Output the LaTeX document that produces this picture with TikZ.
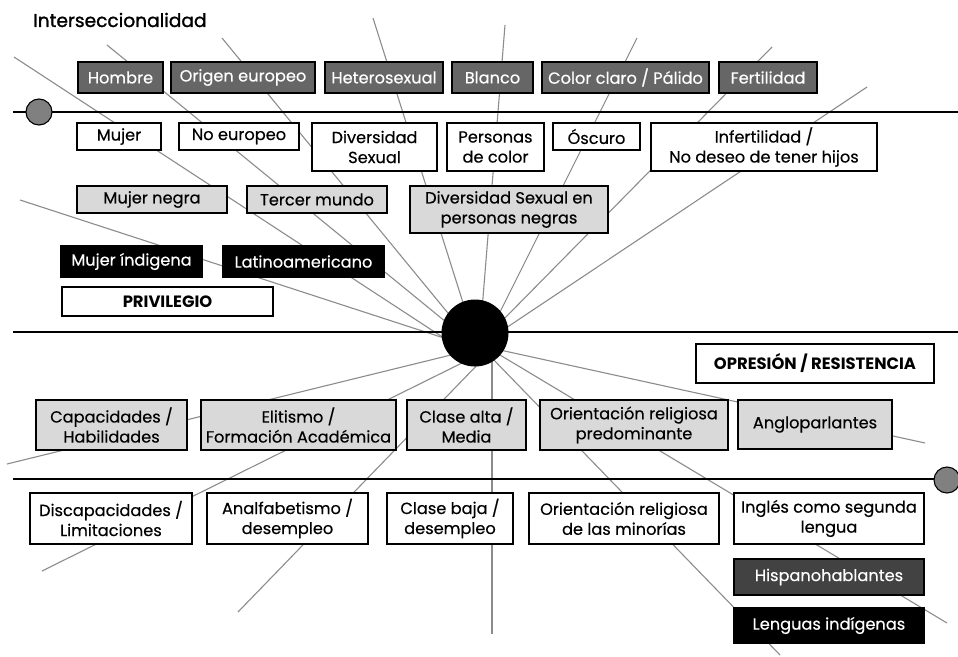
\documentclass[tikz,border=0pt]{standalone}
\usepackage{fontspec}
\setmainfont{Poppins}[FakeBold=0.35]
\newfontfamily\titlefont{Poppins}[FakeBold=1.3]
\newfontfamily\labelfont{Poppins}
\definecolor{boxdark}{HTML}{666666}
\definecolor{boxlight}{HTML}{D9D9D9}
\definecolor{boxhisp}{HTML}{424242}
\definecolor{raygray}{HTML}{8C8C8C}
\definecolor{dotgray}{HTML}{808080}
\begin{document}
\begin{tikzpicture}[x=1pt,y=-1pt,
  ray/.style={draw=raygray, line width=1.1pt},
  hline/.style={draw=black, line width=1.3pt},
  box/.style={draw=black, line width=1.4pt, inner sep=0pt, align=center,
    font=\fontsize{16.2}{20}\selectfont},
  bdark/.style={box, fill=boxdark, text=white},
  bwhite/.style={box, fill=white},
  blight/.style={box, fill=boxlight},
  bblack/.style={box, fill=black, text=white},
  bhisp/.style={box, fill=boxhisp, text=white},
  blabel/.style={box, fill=white, font=\labelfont\fontsize{16.4}{19}\selectfont\bfseries},
  hub/.style={circle, fill=black, inner sep=0pt, minimum size=67pt},
  dot/.style={circle, draw=black, line width=1.1pt, fill=dotgray, inner sep=0pt, minimum size=26pt},
]
\useasboundingbox (0,0) rectangle (958,656);
\fill[white] (0,0) rectangle (958,656);

% ray coordinates
\coordinate (o1) at (14,57);    \coordinate (i1) at (450,342);
\coordinate (o2) at (107,45);   \coordinate (i2) at (446,322);
\coordinate (o3) at (222,38);   \coordinate (i3) at (452,318);
\coordinate (o4) at (373,18);   \coordinate (i4) at (465,309);
\coordinate (o5) at (505,25);   \coordinate (i5) at (482,310);
\coordinate (o6) at (637,38);   \coordinate (i6) at (497,318);
\coordinate (o7) at (772,47);   \coordinate (i7) at (500,323);
\coordinate (o8) at (867,87);   \coordinate (i8) at (500,332);
\coordinate (o9) at (20,200);   \coordinate (i9) at (450,340);
\coordinate (o10) at (7,464);   \coordinate (i10) at (455,354);
\coordinate (o11) at (42,571);  \coordinate (i11) at (466,361);
\coordinate (o12) at (238,612); \coordinate (i12) at (482,360);
\coordinate (o13) at (492,634); \coordinate (i13) at (492,355);
\coordinate (o14) at (780,655); \coordinate (i14) at (490,356);
\coordinate (o15) at (947,623); \coordinate (i15) at (495,352);
\coordinate (o16) at (925,443); \coordinate (i16) at (500,350);

\foreach \k in {1,...,16} {\draw[ray] (o\k) -- (i\k);}

% horizontal lines
\coordinate (h1a) at (13,112);  \coordinate (h1b) at (958,112);
\coordinate (h2a) at (13,332);  \coordinate (h2b) at (958,332);
\coordinate (h3a) at (13,479);  \coordinate (h3b) at (958,479);
\draw[hline] (h1a) -- (h1b);
\draw[hline] (h2a) -- (h2b);
\draw[hline] (h3a) -- (h3b);

\node[dot] (dotl) at (39,112) {};
\node[dot] (dotr) at (947,480) {};
\node[hub] (hub) at (475,333) {};

% title
\node[anchor=west, inner sep=0pt, font=\titlefont\fontsize{18.6}{20}\selectfont] (title) at (33,20) {Interseccionalidad};

% top row
\node[bdark, minimum width=85pt, minimum height=31pt] (hombre) at (120.5,77.5) {Hombre};
\node[bdark, minimum width=144pt, minimum height=31pt] (origen) at (243,77.5) {Origen europeo};
\node[bdark, minimum width=118pt, minimum height=31pt] (hetero) at (384,77.5) {Heterosexual};
\node[bdark, minimum width=81pt, minimum height=31pt] (blanco) at (492.5,77.5) {Blanco};
\node[bdark, minimum width=167pt, minimum height=31pt] (claro) at (625.5,77.5) {Color claro / Pálido};
\node[bdark, minimum width=98pt, minimum height=31pt] (fert) at (768,77.5) {Fertilidad};

% row 2
\node[bwhite, minimum width=84pt, minimum height=27pt] (mujer) at (119,136.5) {Mujer};
\node[bwhite, minimum width=120pt, minimum height=27pt] (noeur) at (239,136.5) {No europeo};
\node[bwhite, minimum width=125pt, minimum height=48pt] (divsex) at (374.5,147) {Diversidad\\Sexual};
\node[bwhite, minimum width=97pt, minimum height=48pt] (perscol) at (495.5,147) {Personas\\de color};
\node[bwhite, minimum width=87pt, minimum height=27pt] (oscuro) at (596.5,136.5) {Óscuro};
\node[bwhite, minimum width=226pt, minimum height=48pt] (infert) at (764,147) {Infertilidad /\\No deseo de tener hijos};

% row 3
\node[blight, minimum width=150pt, minimum height=27pt] (mnegra) at (152,199.5) {Mujer negra};
\node[blight, minimum width=140pt, minimum height=27pt] (tercer) at (317,199.5) {Tercer mundo};
\node[blight, minimum width=198pt, minimum height=47pt] (dspn) at (509,209.5) {Diversidad Sexual en\\personas negras};

% row 4
\node[bblack, minimum width=141pt, minimum height=31pt] (mind) at (131.5,261.5) {Mujer índigena};
\node[bblack, minimum width=161pt, minimum height=31pt] (latino) at (303.5,261.5) {Latinoamericano};
\node[blabel, minimum width=211pt, minimum height=29pt] (priv) at (167.5,301.5) {PRIVILEGIO};

\node[blabel, minimum width=238pt, minimum height=39pt] (opres) at (815,363.5) {OPRESIÓN / RESISTENCIA};

% row 5
\node[blight, minimum width=151pt, minimum height=50pt] (capac) at (111.5,425) {Capacidades /\\Habilidades};
\node[blight, minimum width=195pt, minimum height=50pt] (elit) at (298.5,425) {Elitismo /\\Formación Académica};
\node[blight, minimum width=119pt, minimum height=50pt] (calta) at (466.5,425) {Clase alta /\\Media};
\node[blight, minimum width=188pt, minimum height=50pt] (orpred) at (634,425) {Orientación religiosa\\predominante};
\node[blight, minimum width=154pt, minimum height=49pt] (anglo) at (815,424.5) {Angloparlantes};

% row 6
\node[bwhite, minimum width=162pt, minimum height=51pt] (discap) at (111,518.5) {Discapacidades /\\Limitaciones};
\node[bwhite, minimum width=161pt, minimum height=51pt] (analf) at (287.5,518.5) {Analfabetismo /\\desempleo};
\node[bwhite, minimum width=126pt, minimum height=51pt] (cbaja) at (450,518.5) {Clase baja /\\desempleo};
\node[bwhite, minimum width=190pt, minimum height=51pt] (ormin) at (624,518.5) {Orientación religiosa\\de las minorías};
\node[bwhite, minimum width=190pt, minimum height=51pt] (ingles) at (829,518.5) {Inglés como segunda\\lengua};

\node[bhisp, minimum width=190pt, minimum height=36pt] (hisp) at (829,577) {Hispanohablantes};
\node[bblack, minimum width=190pt, minimum height=35pt] (lindig) at (829,625.5) {Lenguas indígenas};
\end{tikzpicture}
\end{document}
